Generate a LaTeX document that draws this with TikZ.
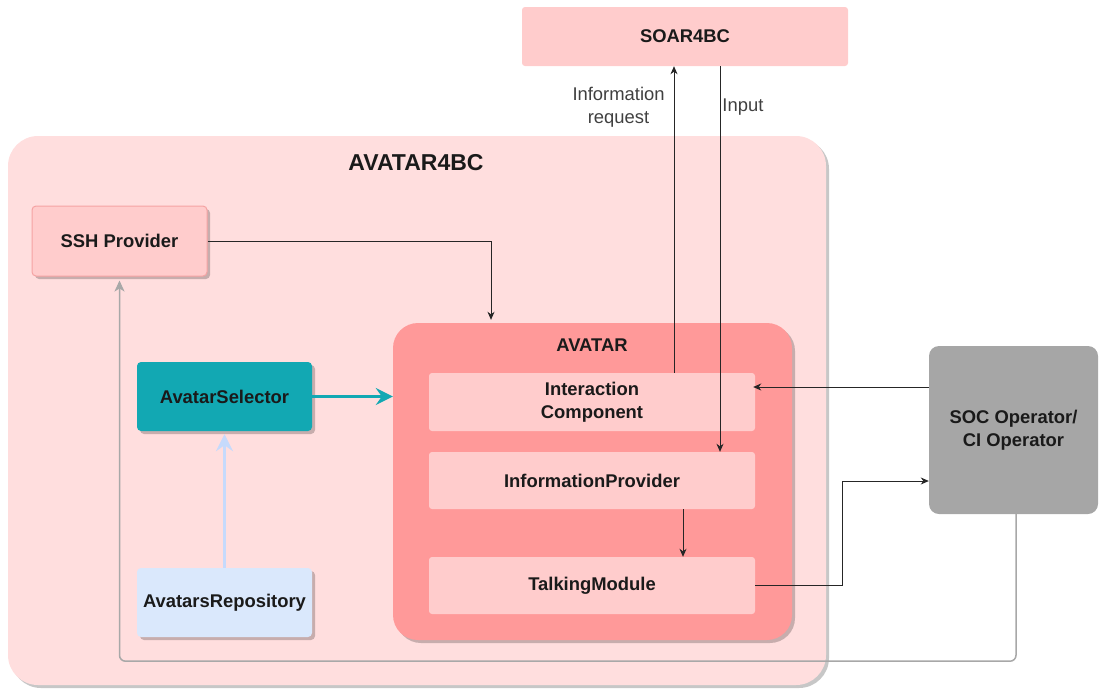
\documentclass[tikz,border=0pt]{standalone}
\usepackage{fontspec}
\setmainfont{Liberation Sans}
\usetikzlibrary{arrows.meta,shadows,calc}
\definecolor{outerfill}{HTML}{FFDEDE}
\definecolor{pinkfill}{HTML}{FFCCCC}
\definecolor{pinkline}{HTML}{F5A3A3}
\definecolor{avatarfill}{HTML}{FF9999}
\definecolor{tealfill}{HTML}{12A8B3}
\definecolor{repofill}{HTML}{DAE8FC}
\definecolor{repoarrow}{HTML}{C6DAFC}
\definecolor{socfill}{HTML}{A6A6A6}
\definecolor{txt}{HTML}{1A1A1A}
\definecolor{graylink}{HTML}{A8A8A8}
\begin{document}
\begin{tikzpicture}[x=1pt,y=-1pt,
  every node/.style={inner sep=0pt, text=txt},
  bfont/.style={font=\fontsize{18.4}{23}\selectfont\bfseries},
  rfont/.style={font=\fontsize{18.4}{23}\selectfont, text=black!75},
  shad/.style={drop shadow={shadow xshift=3pt, shadow yshift=-3pt, opacity=0.22, fill=black}},
  tipk/.style={-{Stealth[length=8pt,width=7pt,inset=2.5pt]}},
  chev/.style={-{Stealth[length=17pt,width=17pt,inset=6pt]}},
  link/.style={draw=black!85, line width=0.9pt, tipk}
]
\useasboundingbox (0,0) rectangle (1099,689);

% containers
\node[shad, fill=outerfill, rounded corners=30pt, minimum width=818, minimum height=549] (outer) at (417,410.5) {};
\node[bfont, font=\fontsize{23}{27}\selectfont\bfseries] (outertitle) at (416,163) {AVATAR4BC};

\node[fill=pinkfill, rounded corners=3pt, minimum width=326, minimum height=59, bfont] (soar) at (685,36.5) {SOAR4BC};

\node[shad, fill=pinkfill, draw=pinkline, line width=1pt, rounded corners=4pt, minimum width=175, minimum height=70, bfont] (ssh) at (119.5,241) {SSH Provider};

\node[shad, fill=avatarfill, rounded corners=25pt, minimum width=399, minimum height=317] (avatar) at (592.5,481.5) {};
\node[bfont] (avatartitle) at (592,345) {AVATAR};

\node[fill=pinkfill, rounded corners=3pt, minimum width=326, minimum height=58, bfont, align=center] (ic) at (592,402) {Interaction\\Component};
\node[fill=pinkfill, rounded corners=3pt, minimum width=326, minimum height=57, bfont] (ip) at (592,480.5) {InformationProvider};
\node[fill=pinkfill, rounded corners=3pt, minimum width=326, minimum height=57, bfont] (tm) at (592,585.5) {TalkingModule};

\node[fill=socfill, rounded corners=10pt, minimum width=169, minimum height=168, bfont, align=center] (soc) at (1013.5,430) {SOC Operator/\\CI Operator};

\node[shad, fill=tealfill, rounded corners=4pt, minimum width=175, minimum height=69, bfont] (sel) at (224.5,396.5) {AvatarSelector};
\node[shad, fill=repofill, rounded corners=4pt, minimum width=175, minimum height=69, bfont] (repo) at (224.5,602.5) {AvatarsRepository};

% connectors
\draw[link] ([xshift=82pt]ic.north) -- ([xshift=82pt]ic.north |- soar.south)
  node[rfont, pos=0.866, anchor=east, xshift=-9pt, align=center] (inforeq) {Information\\request};
\draw[link] ([xshift=35pt]soar.south) -- ([xshift=35pt]soar.south |- ip.north)
  node[rfont, pos=0.106, anchor=west, xshift=2pt] (inputlbl) {Input};
\draw[link, shorten >=3pt] (ssh.east) -| ([xshift=-101.5pt]avatar.north);
\draw[link] ([xshift=91pt]ip.south) -- ([xshift=91pt]tm.north);
\draw[link] (tm.east) -- ([xshift=87pt]tm.east) |- ([yshift=-51pt]soc.west);
\draw[link, shorten >=-2pt] ([yshift=43pt]soc.west) -- ([yshift=43pt]soc.west -| ic.east);
\draw[draw=tealfill, fill=tealfill, line width=3pt, chev] (sel.east) -- (sel.east -| avatar.west);
\draw[draw=repoarrow, fill=repoarrow, line width=3pt, chev, shorten >=3pt] (repo.north) -- (sel.south);
\draw[draw=graylink, line width=1.5pt, rounded corners=6pt, -{Stealth[length=11pt,width=10pt,inset=3pt]}, shorten >=4pt]
  ([xshift=2.5pt]soc.south) -- ++(0,147) -| (ssh.south);
\end{tikzpicture}
\end{document}
